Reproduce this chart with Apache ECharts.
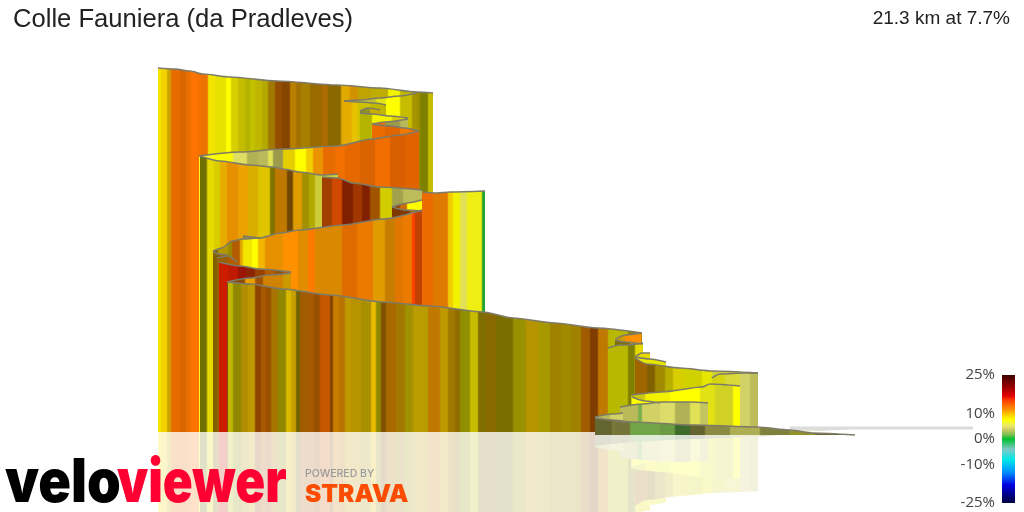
<!DOCTYPE html>
<html><head><meta charset="utf-8">
<style>html,body{margin:0;padding:0;background:#fff}#c{width:1024px;height:512px}</style>
<script src="https://cdn.jsdelivr.net/npm/echarts@6/dist/echarts.min.js"></script>
</head><body><div id="c"></div>
<script>
const titleText = 'Colle Fauniera (da Pradleves)';
const summaryText = '21.3 km at 7.7%';
const legendTicks = [-25, -10, 0, 10, 25];
const gradeScale = [[-25,'#000040'],[-18,'#0000e0'],[-13,'#0090ff'],[-8,'#00e8e8'],[-4,'#80c8c8'],[0,'#00c030'],[1.5,'#70c050'],[3.5,'#c8c860'],[5,'#e8e870'],[7.5,'#ffff00'],[10,'#ffc000'],[11.5,'#ff9000'],[13,'#ff7000'],[15,'#ff4000'],[17,'#e00000'],[20,'#a00000'],[25,'#3a0000']];

// Each ribbon: top outline [projected x, height] and bands [start x, grade %, shade]
const wallTop = [[158,364],[175,363],[190,361],[203,358],[230,355],[277,351],[337,347],[380,344],[417,340],[433,339]];
const wallBands = [[158,8,.95],[161,8.8,.95],[167,9.5,.8],[171,12.6,.9],[180,12.6,.85],[186,12.6,.92],[191,12.8,1],[197,12.8,.97],[201,12.5,.93],[208,8,.95],[215,7.7,.9],[226,7.5,1],[231,8,.85],[238,8,.78],[245,7.5,.7],[250,7.5,.76],[255,8,.75],[262,8,.7],[268,10,.63],[275,12,.58],[282,12,.52],[290,10.5,.72],[296,10.5,.64],[301,10,.66],[310,10.5,.6],[322,11,.67],[328,10,.54],[341,10,.88],[350,10.5,.82],[358,9,.75],[371,8.5,.75],[388,7.5,.95],[400,8,.75],[415,8.5,.62],[420,7.5,.5],[428,8,.78]];
const curlATop = [[344,331],[360,332],[380,334],[400,336],[417,339]];
const curlABands = [[344,7,.8],[360,6,.8],[376,7,.9],[386,7.5,1],[400,8,.78],[412,8.5,.65]];
const curlBTop = [[344,331],[360,330],[375,329],[386,327]];
const curlBBands = [[344,10,.9],[352,9,.9],[358,8,.8],[371,8,.75]];
const curlCTop = [[360,321],[368,324],[380,322]];
const curlCBands = [[360,6,.6],[370,9,.8]];
const curlDTop = [[360,319],[372,318],[390,316],[408,314]];
const curlDBands = [[360,7.5,.7],[372,7.5,.95],[392,8,.85],[405,7.5,.6]];
const curlETop = [[372,308],[385,310],[408,313]];
const curlEBands = [[372,12.8,.95],[385,4.5,.7],[400,5,.8]];
const curlFTop = [[372,308],[390,306],[405,304],[419,301]];
const curlFBands = [[372,12.8,.92],[385,12.8,.87],[400,12.3,.95],[410,12.8,.92]];
const upperTop = [[199,276],[240,280],[283,283],[337,286],[372,293],[400,297],[419,301]];
const upperBands = [[199,7,1],[215,7.5,.98],[233,5.2,.95],[247,4.5,.8],[258,5,.8],[268,5.5,.95],[273,4.5,.7],[283,8.5,.9],[295,7.5,1],[306,9,.95],[313,11,.92],[323,12.7,.9],[335,12.7,.95],[345,12.8,.9],[360,12.8,.85],[375,12.8,.95],[390,13,.85],[405,13,.88]];
const secondTop = [[200,276],[220,271],[250,267],[273,265],[283,263],[300,260],[322,257],[338,258]];
const secondBands = [[200,7.5,.44],[207,8,.9],[214,8,.85],[220,10,.9],[227,11,.9],[238,10.5,.92],[248,9.5,.85],[258,8.8,.88],[270,8.5,.5],[275,11,.75],[287,11,.44],[293,10.5,.88],[302,8.5,.63],[309,8,.7],[315,6,.85]];
const thirdTop = [[322,255],[338,254],[353,249],[380,245],[422,242]];
const thirdBands = [[322,13.5,.63],[332,14,.82],[342,15,.5],[353,14,.63],[362,15,.5],[370,12,.63],[380,7.7,.82],[392,5,.7],[403,4.5,.85]];
const endTop = [[422,240],[437,239],[450,240],[485,241]];
const endBands = [[422,12.8,.92],[433,11.8,.88],[448,9,.95],[453,7.5,.95],[460,5.5,.95],[467,7,.95],[482,.5,.85]];
const hookATop = [[392,225],[403,228],[407,229],[422,232]];
const hookABands = [[392,13,.6],[400,12,.8],[407,7.5,1]];
const hookBTop = [[392,225],[405,222],[422,221]];
const hookBBands = [[392,13,.5],[410,11,.7]];
const tabTop = [[243,196],[260,194]];
const tabBands = [[243,5,.6]];
const middleTop = [[213,181],[222,184],[232,191],[243,193],[260,194],[280,199],[300,202],[343,207],[383,213],[422,222]];
const middleBands = [[213,10,.5],[218,9,.7],[228,8.5,.6],[232,12,.7],[240,10,.9],[243,8,.95],[252,7.5,1],[258,10,.95],[265,11,.9],[283,11.5,1],[298,11,.88],[308,12.5,1],[315,11,.85],[342,12.5,.88],[357,12,.92],[373,10.5,.88],[385,11,.78],[395,12,.88],[403,12,.92],[412,15,1],[415,14,.75]];
const kinkATop = [[213,180],[219,178],[228,177]];
const kinkABands = [[213,10,.5],[220,11,.6]];
const kinkBTop = [[217,174],[228,176],[237,170]];
const kinkBBands = [[217,11,.6],[228,12,.7]];
const redTop = [[219,170],[240,166],[260,163],[291,160]];
const redBands = [[219,16,.85],[228,16,.8],[238,16,.65],[246,15,.55],[255,13,.6],[265,12,.7],[275,12,.6],[283,12,.7]];
const returnTop = [[227,150],[250,154],[270,157],[291,159]];
const returnBands = [[227,12,.55],[245,10.5,.92],[255,12,.63],[263,11,.82],[283,10,.8]];
const frontTop = [[228,150],[250,148],[283,143],[330,137],[383,130],[430,126],[483,120],[513,114],[555,109],[597,104],[642,99]];
const frontBands = [[228,8,.75],[233,8,.56],[241,9.5,.69],[248,9.5,.75],[255,12.5,.56],[261,12,.66],[266,12,.6],[271,10.5,.66],[278,8,.56],[286,9,.85],[291,9.5,.78],[296,9,.44],[300,11.5,.63],[308,12,.66],[314,12,.6],[320,13,.78],[330,12,.5],[333,11,.78],[339,11,.72],[345,9.5,.75],[351,9.5,.72],[361,9,.66],[371,9.5,.91],[376,8,.56],[381,11,.5],[386,11,.66],[396,10,.63],[405,8.5,.63],[413,9,.72],[428,11,.75],[440,9.5,.75],[448,10,.63],[455,10,.56],[460,7.5,.56],[470,8,.78],[478,9,.5],[486,10,.54],[496,8.5,.48],[513,8,.6],[526,9.5,.72],[538,8.5,.66],[550,9.5,.63],[561,9,.63],[571,9.5,.63],[581,11.5,.63],[590,12.5,.5],[598,11,.75],[608,7.5,.72],[628,7.5,.5],[636,10,.72]];
const turnATop = [[616,93],[625,97],[641,99]];
const turnABands = [[616,10,.8],[625,11.5,1]];
const turnBTop = [[615,92],[625,90],[643,88]];
const turnBBands = [[615,9,.5],[630,9,.7]];
const turnCTop = [[608,84],[620,87],[628,87],[643,89]];
const turnCBands = [[608,7.5,.72],[628,7.5,.5],[635,8,.9]];
const turnDTop = [[635,75],[642,79],[650,79]];
const turnDBands = [[635,8,.9]];
const turnETop = [[635,75],[650,73],[666,70]];
const turnEBands = [[635,7.5,.9]];
const longTop = [[635,74],[647,68],[680,64],[713,61],[758,59]];
const longBands = [[635,11,.63],[647,10,.5],[655,9,.63],[665,8,.72],[673,8,.85],[683,7.5,.82],[702,7.5,.9],[712,6,.85]];
const paleTop = [[712,54],[720,58],[745,59],[758,59]];
const paleBands = [[712,7,.85],[725,6,.9],[740,5,.9],[750,4.5,.85]];
const lowATop = [[631,37],[662,40],[702,45],[710,48],[740,46]];
const lowABands = [[631,7,.8],[645,7.5,.95],[670,7.5,1],[700,7,.9],[715,6.5,.85],[733,7.5,1]];
const lowBTop = [[632,35],[645,31],[660,29]];
const lowBBands = [[632,7.5,1]];
const lowCTop = [[620,25],[642,28],[662,30],[690,30],[708,29]];
const lowCBands = [[620,5,.8],[638,2,.9],[642,5,.9],[660,5,.95],[675,4.5,.8],[690,5.5,.95],[700,5,.85]];
const startATop = [[595,15],[612,18],[623,19]];
const startABands = [[595,5,.8],[610,5,.9]];
const startBTop = [[595,14],[612,12],[630,10]];
const startBBands = [[595,4,.48],[612,4.5,.55]];
const startTop = [[615,11],[630,10],[695,7],[757,5],[790,2],[813,-1],[855,-3]];
const startBands = [[615,5,.5],[630,2,.85],[660,2,.8],[675,1.5,.55],[690,4.5,.45],[705,5,.6],[730,5,.75],[760,5,.55],[790,6,.6],[815,4,.5],[835,1,.5]];
const horizonLine = [[790,4],[973,4]];

const ribbons = [
 [wallTop,wallBands],[curlATop,curlABands],[curlBTop,curlBBands],[curlCTop,curlCBands],[curlDTop,curlDBands],[curlETop,curlEBands],[curlFTop,curlFBands],
 [upperTop,upperBands],[secondTop,secondBands],[thirdTop,thirdBands],[endTop,endBands],[hookATop,hookABands],[hookBTop,hookBBands],
 [tabTop,tabBands],[middleTop,middleBands],[kinkATop,kinkABands],[kinkBTop,kinkBBands],[redTop,redBands],[returnTop,returnBands],[frontTop,frontBands],
 [turnATop,turnABands],[turnBTop,turnBBands],[turnCTop,turnCBands],[turnDTop,turnDBands],[turnETop,turnEBands],[longTop,longBands],[paleTop,paleBands],
 [lowATop,lowABands],[lowBTop,lowBBands],[lowCTop,lowCBands],[startATop,startABands],[startBTop,startBBands,-3],[startTop,startBands,-3]
];

function hexRgb(h){return [1,3,5].map(i=>parseInt(h.substr(i,2),16));}
function gradeRgb(g){
  for(let i=1;i<gradeScale.length;i++){
    if(g<=gradeScale[i][0]){
      const a=gradeScale[i-1],b=gradeScale[i],t=(g-a[0])/(b[0]-a[0]);
      const ca=hexRgb(a[1]),cb=hexRgb(b[1]);
      return ca.map((v,k)=>v+(cb[k]-v)*t);
    }
  }
  return hexRgb(gradeScale[gradeScale.length-1][1]);
}
function css(c){return 'rgb('+c.map(v=>Math.round(v)).join(',')+')';}
function bandGradient(top,bands,wash){
  const x0=top[0][0],x1=top[top.length-1][0],stops=[],span=x1-x0;
  const soft=Math.min(.8/span,.05);
  bands.forEach((b,i)=>{
    const end=i+1<bands.length?bands[i+1][0]:x1;
    let c=gradeRgb(b[1]).map(v=>v*b[2]);
    if(wash) c=c.map(v=>v*(1-wash)+255*wash);
    const col=css(c);
    const a=(b[0]-x0)/span,e=(end-x0)/span;
    stops.push({offset:i?Math.min(a+soft,e):0,color:col},{offset:i+1<bands.length?Math.max(e-soft,a):1,color:col});
  });
  return new echarts.graphic.LinearGradient(0,0,1,0,stops);
}
const quiet={type:'line',xAxisIndex:0,yAxisIndex:0,showSymbol:false,symbol:'none',silent:true,animation:false,clip:true,smooth:.25,smoothMonotone:'x'};
const series=[];
ribbons.forEach(([top,bands,base])=>{
  series.push({...quiet,data:top.map(p=>[p[0],-p[1]]),lineStyle:{width:0,opacity:0},
    areaStyle:{origin:base?-base:0,opacity:1,color:bandGradient(top,bands,.79)},z:2});
});
series.push({...quiet,smooth:false,data:horizonLine,lineStyle:{color:'#dcdcdc',width:3},z:3});
ribbons.forEach(([top,bands,base])=>{
  series.push({...quiet,data:top,lineStyle:{color:'#7e7b68',width:1.5},
    areaStyle:{origin:base||0,opacity:1,color:bandGradient(top,bands)},z:4});
});
const legendStops=gradeScale.map(s=>({offset:(25-s[0])/50,color:s[1]})).reverse();
series.push({type:'line',xAxisIndex:1,yAxisIndex:1,showSymbol:false,symbol:'none',silent:true,animation:false,
  data:[[0,25],[1,25]],lineStyle:{width:0},areaStyle:{origin:'start',opacity:1,color:new echarts.graphic.LinearGradient(0,0,0,1,legendStops)},z:5});

const chart=echarts.init(document.getElementById('c'),null,{renderer:'canvas'});
chart.setOption({
  animation:false,backgroundColor:'#fff',
  title:[
    {text:titleText,left:8,top:2,textStyle:{fontFamily:'Liberation Sans',fontSize:25.6,fontWeight:'normal',color:'#222'}},
    {text:summaryText,right:9,top:4,textStyle:{fontFamily:'Liberation Sans',fontSize:19,fontWeight:'normal',color:'#222'}}
  ],
  grid:[{left:0,right:0,top:0,bottom:0},{left:1002,width:13,top:375,height:128}],
  xAxis:[{type:'value',min:0,max:1024,show:false},{type:'value',gridIndex:1,min:0,max:1,show:false}],
  yAxis:[{type:'value',min:-80,max:432,show:false},
    {type:'value',gridIndex:1,min:-25,max:25,position:'left',axisLine:{show:false},axisTick:{show:false},splitLine:{show:false},
     axisLabel:{customValues:legendTicks,formatter:'{value}%',fontFamily:'Open Sans',fontSize:15,color:'#444',margin:7,padding:[0,0,4,0],hideOverlap:false}}],
  series,
  graphic:[
    {type:'text',left:5,top:454,z:50,scaleX:.9,style:{text:'velo',fontFamily:'Inter',fontWeight:900,fontSize:60,fill:'#000'}},
    {type:'text',left:117,top:454,z:50,scaleX:.824,style:{text:'viewer',fontFamily:'Inter',fontWeight:900,fontSize:60,fill:'#ff0033'}},
    {type:'text',left:305,top:468,z:50,style:{text:'POWERED BY',fontFamily:'Inter',fontWeight:500,fontSize:10.5,fill:'#9a9a9a'}},
    {type:'text',left:305,top:483,z:50,scaleX:1.02,style:{text:'STRAVA',fontFamily:'Inter',fontWeight:900,fontSize:24,fill:'#fc4c02'}}
  ]
});
</script></body></html>
